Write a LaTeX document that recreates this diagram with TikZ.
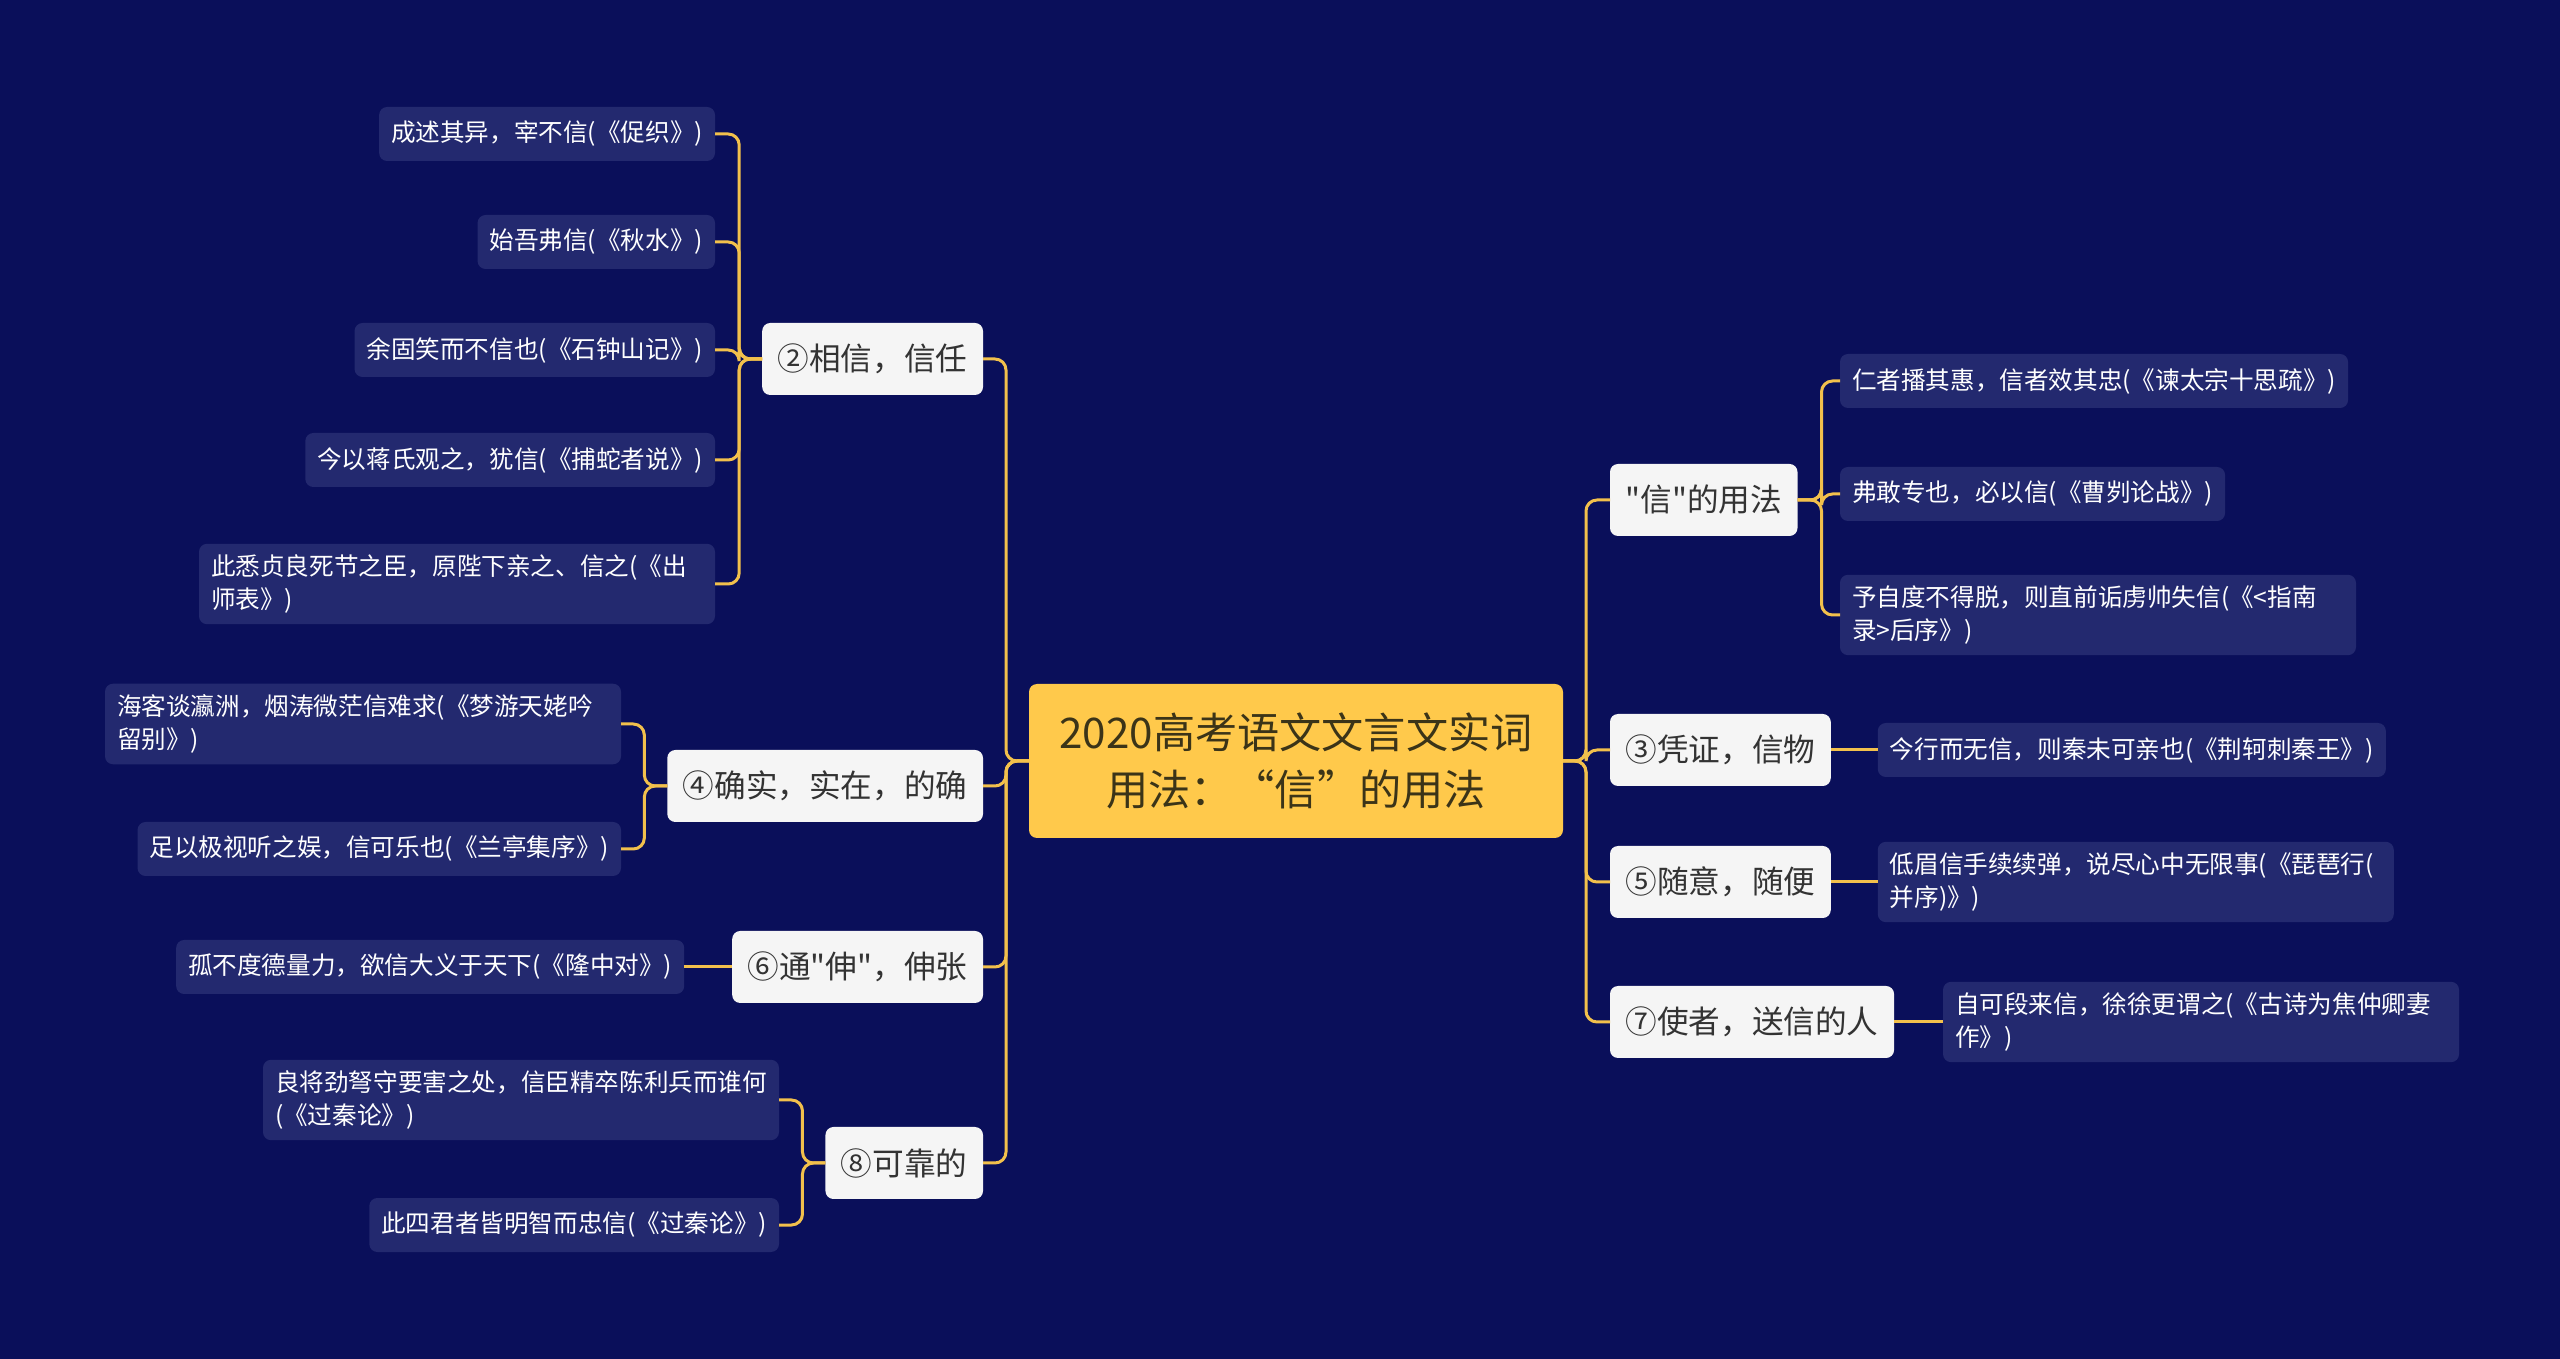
\documentclass[tikz,border=0pt]{standalone}
\usepackage{fontspec}
\setmainfont{Noto Sans CJK SC}
\usetikzlibrary{positioning}
\definecolor{night}{HTML}{0A0F5A}
\definecolor{leafblue}{HTML}{23296F}
\definecolor{gold}{HTML}{FFC94B}
\definecolor{wire}{HTML}{F2C04C}
\definecolor{ink}{HTML}{333333}
\definecolor{hubink}{HTML}{3B3418}

\begin{document}
\begin{tikzpicture}
[x=0.1mm,y=-0.1mm,
 every node/.style={inner sep=0mm,outer sep=0mm,rounded corners=0.8mm},
 hub/.style={fill=gold,text=hubink,minimum width=53.4mm,minimum height=15.4mm,align=center,font=\fontsize{12}{16}\selectfont},
 sense/.style={fill=white!96!black,text=ink,minimum height=7.2mm,inner xsep=1.55mm,font=\fontsize{9}{11}\selectfont},
 leaf/.style={fill=leafblue,text=white,minimum height=5.4mm,inner xsep=1.2mm,inner ysep=1.1mm,align=left,font=\fontsize{7}{9.3}\selectfont},
 wrap/.style={leaf,text width=49.2mm},
 link/.style={draw=wire,line width=0.3mm,rounded corners=1.1mm}]
\fill[night] (0,0) rectangle (2560,1359);
\node[hub] (root) at (1296,761) {2020高考语文文言文实词\\用法：“信”的用法};
\node[sense,anchor=east] (s2) at (983,359)  {②相信，信任};
\node[sense,anchor=east] (s4) at (983,786)  {④确实，实在，的确};
\node[sense,anchor=east] (s6) at (983,967)  {⑥通\textquotedbl 伸\textquotedbl，伸张};
\node[sense,anchor=east] (s8) at (983,1163) {⑧可靠的};
\node[sense,anchor=west] (s0) at (1610,500)  {\textquotedbl 信\textquotedbl 的用法};
\node[sense,anchor=west] (s3) at (1610,750)  {③凭证，信物};
\node[sense,anchor=west] (s5) at (1610,882)  {⑤随意，随便};
\node[sense,anchor=west] (s7) at (1610,1022) {⑦使者，送信的人};
\node[leaf,anchor=east] (e2A) at (715,134)  {成述其异，宰不信(《促织》)};
\node[leaf,anchor=east] (e2B) at (715,242)  {始吾弗信(《秋水》)};
\node[leaf,anchor=east] (e2C) at (715,350)  {余固笑而不信也(《石钟山记》)};
\node[leaf,anchor=east] (e2D) at (715,460)  {今以蒋氏观之，犹信(《捕蛇者说》)};
\node[wrap,anchor=east] (e2E) at (715,584)  {此悉贞良死节之臣，原陛下亲之、信之(《出\\师表》)};
\node[wrap,anchor=east] (e4A) at (621,724)  {海客谈瀛洲，烟涛微茫信难求(《梦游天姥吟\\留别》)};
\node[leaf,anchor=east] (e4B) at (621,849)  {足以极视听之娱，信可乐也(《兰亭集序》)};
\node[leaf] (e6A) [left=4.8mm of s6] {孤不度德量力，欲信大义于天下(《隆中对》)};
\node[wrap,anchor=east] (e8A) at (779,1100) {良将劲弩守要害之处，信臣精卒陈利兵而谁何\\(《过秦论》)};
\node[leaf,anchor=east] (e8B) at (779,1225) {此四君者皆明智而忠信(《过秦论》)};
\node[leaf,anchor=west] (e0A) at (1840,381) {仁者播其惠，信者效其忠(《谏太宗十思疏》)};
\node[leaf,anchor=west] (e0B) at (1840,494) {弗敢专也，必以信(《曹刿论战》)};
\node[wrap,anchor=west] (e0C) at (1840,615) {予自度不得脱，则直前诟虏帅失信(《<指南\\录>后序》)};
\node[leaf] (e3A) [right=4.7mm of s3] {今行而无信，则秦未可亲也(《荆轲刺秦王》)};
\node[wrap] (e5A) [right=4.7mm of s5] {低眉信手续续弹，说尽心中无限事(《琵琶行(\\并序)》)};
\node[wrap] (e7A) [right=4.9mm of s7] {自可段来信，徐徐更谓之(《古诗为焦仲卿妻\\作》)};
% hub to senses
\draw[link] (root.west) -- ++(-23,0) |- (s2.east);
\draw[link] (root.west) -- ++(-23,0) |- (s4.east);
\draw[link] (root.west) -- ++(-23,0) |- (s6.east);
\draw[link] (root.west) -- ++(-23,0) |- (s8.east);
\draw[link] (root.east) -- ++(23,0)  |- (s0.west);
\draw[link] (root.east) -- ++(23,0)  |- (s3.west);
\draw[link] (root.east) -- ++(23,0)  |- (s5.west);
\draw[link] (root.east) -- ++(23,0)  |- (s7.west);
% senses to quotations
\draw[link] (s2.west) -- ++(-23,0) |- (e2A.east);
\draw[link] (s2.west) -- ++(-23,0) |- (e2B.east);
\draw[link] (s2.west) -- ++(-23,0) |- (e2C.east);
\draw[link] (s2.west) -- ++(-23,0) |- (e2D.east);
\draw[link] (s2.west) -- ++(-23,0) |- (e2E.east);
\draw[link] (s4.west) -- ++(-23,0) |- (e4A.east);
\draw[link] (s4.west) -- ++(-23,0) |- (e4B.east);
\draw[link] (s6.west) -- (e6A.east);
\draw[link] (s8.west) -- ++(-23,0) |- (e8A.east);
\draw[link] (s8.west) -- ++(-23,0) |- (e8B.east);
\draw[link] (s0.east) -- ++(24,0)  |- (e0A.west);
\draw[link] (s0.east) -- ++(24,0)  |- (e0B.west);
\draw[link] (s0.east) -- ++(24,0)  |- (e0C.west);
\draw[link] (s3.east) -- (e3A.west);
\draw[link] (s5.east) -- (e5A.west);
\draw[link] (s7.east) -- (e7A.west);
\end{tikzpicture}
\end{document}
